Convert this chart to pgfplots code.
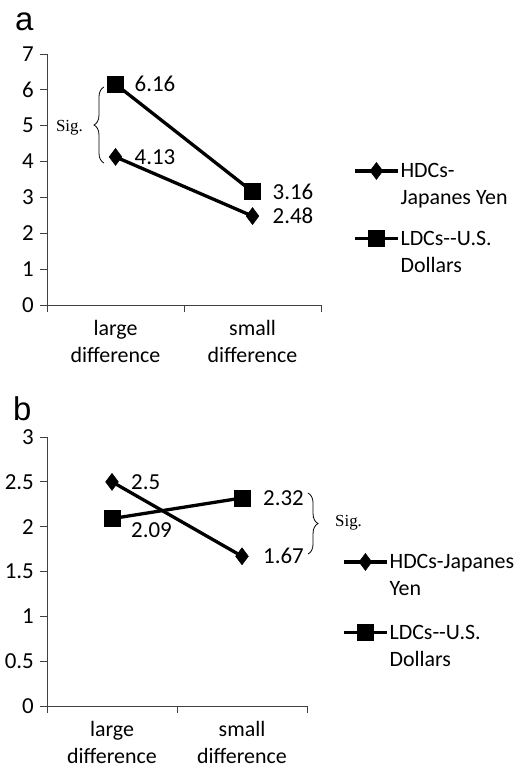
\documentclass[border=0pt]{standalone}
\usepackage{pgfplots}
\pgfplotsset{compat=1.18}
\usepackage{fontspec}
\setmainfont{Carlito}
\newfontfamily\seriffont{Liberation Serif}
\newfontfamily\arialfont{Liberation Sans}
\usetikzlibrary{decorations.pathreplacing}
\newcommand{\fs}{\fontsize{22}{27}\selectfont}
\newcommand{\fd}{\fontsize{23}{27}\selectfont}
\newcommand{\tl}[1]{\begin{tabular}[t]{@{}l@{}}#1\end{tabular}}
\pgfplotsset{
  common/.style={
    scale only axis, clip=false,
    axis lines=left,
    axis line style={-, line width=1bp, black!75},
    every inner x axis line/.append style={-},
    every inner y axis line/.append style={-},
    tick align=outside, major tick length=7bp,
    tick style={line width=1bp, black!75},
    xmin=-0.5, xmax=1.5,
    xtick={-0.5,0.5,1.5}, xticklabels={},
    extra x ticks={0,1},
    extra x tick labels={{large\\difference},{small\\difference}},
    extra x tick style={major tick length=0pt, tick label style={align=center, inner sep=0pt, yshift=-15bp, font=\fs}},
    /pgf/number format/assume math mode=true,
    tick label style={font=\fd},
    y tick label style={inner sep=0pt, xshift=-6bp},
    every axis plot/.append style={line width=3.3bp, black},
    legend image code/.code={\draw[mark repeat=2,mark phase=2,#1] plot coordinates {(0bp,7bp) (21.5bp,7bp) (43bp,7bp)};},
    legend style={draw=none, fill=none, inner sep=0pt, font=\fs, anchor=north west,
      cells={anchor=base west}, nodes={inner sep=1bp}},
  },
  hdc/.style={mark=diamond*, mark size=8.5bp, mark options={solid, line width=0.5bp}},
  ldc/.style={mark=square*, mark size=8bp, mark options={solid, line width=0.5bp}},
}
\begin{document}
\begin{tikzpicture}
\useasboundingbox (0,0) rectangle (532bp,-765bp);
\node[anchor=base west, inner sep=0pt, font=\arialfont\fontsize{33}{33}\selectfont] at (15bp,-30bp) {a};
\node[anchor=base west, inner sep=0pt, font=\arialfont\fontsize{33}{33}\selectfont] at (13bp,-420bp) {b};

\begin{axis}[common, at={(47bp,-305bp)}, anchor=south west,
  width=274bp, height=251bp, ymin=0, ymax=7, ytick={0,1,...,7},
  legend style={at={(1.117,0.586)}, row sep=45bp}]
\addplot[hdc] coordinates {(0,4.13) (1,2.48)};
\addplot[ldc] coordinates {(0,6.16) (1,3.16)};
\legend{{\tl{HDCs-\\Japanes Yen}},{\tl{LDCs-{}-U.S.\\Dollars}}}
\node[anchor=west, inner sep=0pt, font=\fd, xshift=19bp] at (axis cs:0,6.16) {6.16};
\node[anchor=west, inner sep=0pt, font=\fd, xshift=19bp] at (axis cs:0,4.13) {4.13};
\node[anchor=west, inner sep=0pt, font=\fd, xshift=20bp] at (axis cs:1,3.16) {3.16};
\node[anchor=west, inner sep=0pt, font=\fd, xshift=20bp] at (axis cs:1,2.48) {2.48};
\draw[decorate, decoration={brace, amplitude=10bp}, line width=0.8bp] (axis cs:-0.084,3.96) -- (axis cs:-0.084,6.08);
\node[anchor=east, inner sep=0pt, font=\seriffont\fontsize{17}{20}\selectfont] at (axis cs:-0.237,4.94) {Sig.};
\end{axis}

\begin{axis}[common, at={(47bp,-706bp)}, anchor=south west,
  width=260bp, height=269bp, ymin=0, ymax=3, ytick={0,0.5,...,3},
  legend style={at={(1.135,0.584)}, row sep=48bp}]
\addplot[hdc] coordinates {(0,2.5) (1,1.67)};
\addplot[ldc] coordinates {(0,2.09) (1,2.32)};
\legend{{\tl{HDCs-Japanes\\Yen}},{\tl{LDCs-{}-U.S.\\Dollars}}}
\node[anchor=west, inner sep=0pt, font=\fd, xshift=19bp] at (axis cs:0,2.5) {2.5};
\node[anchor=west, inner sep=0pt, font=\fd, xshift=19bp, yshift=-12bp] at (axis cs:0,2.09) {2.09};
\node[anchor=west, inner sep=0pt, font=\fd, xshift=21bp] at (axis cs:1,2.32) {2.32};
\node[anchor=west, inner sep=0pt, font=\fd, xshift=21bp] at (axis cs:1,1.67) {1.67};
\draw[decorate, decoration={brace, amplitude=10bp}, line width=0.8bp] (axis cs:1.508,2.375) -- (axis cs:1.508,1.695);
\node[anchor=west, inner sep=0pt, font=\seriffont\fontsize{17}{20}\selectfont] at (axis cs:1.715,2.04) {Sig.};
\end{axis}
\end{tikzpicture}
\end{document}
